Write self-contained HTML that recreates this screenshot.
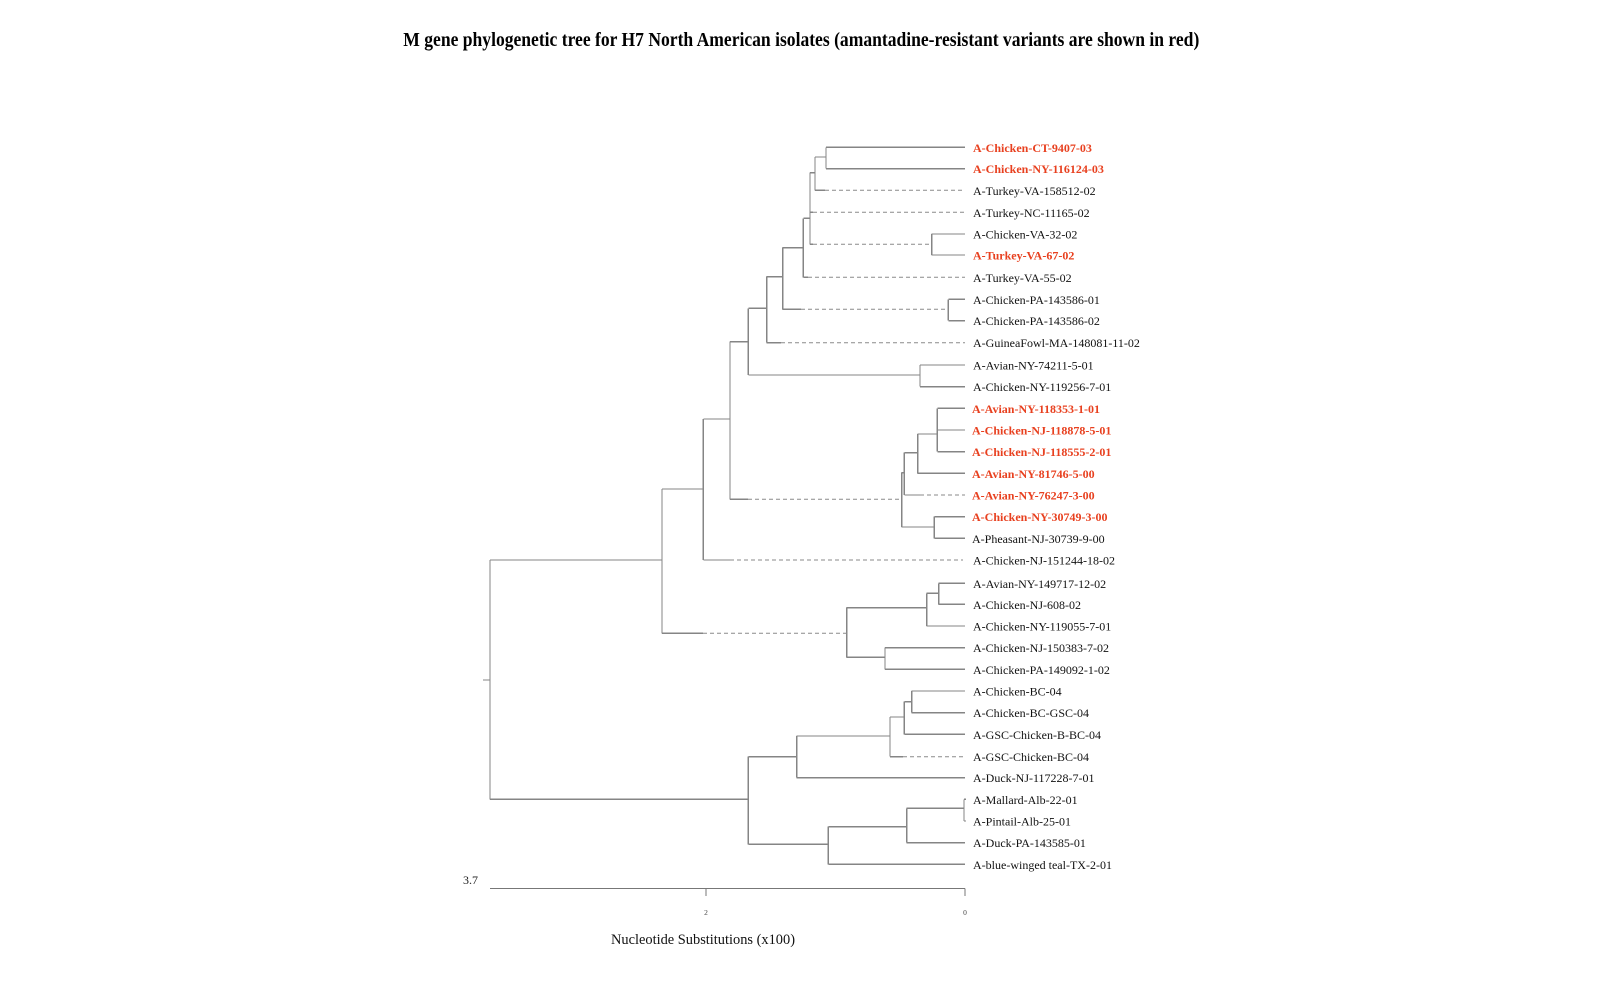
<!DOCTYPE html>
<html>
<head>
<meta charset="utf-8">
<style>
  html, body { margin:0; padding:0; background:#ffffff; }
  body { width:1600px; height:1000px; overflow:hidden; }
  svg { display:block; }
  .t { font-family:"Liberation Serif", "Times New Roman", serif; }
  .lbl { font-size:12px; fill:#111; }
  .red { font-weight:bold; fill:#e8401f; }
</style>
</head>
<body>
<svg width="1600" height="1000" viewBox="0 0 1600 1000" xmlns="http://www.w3.org/2000/svg">
  <rect x="0" y="0" width="1600" height="1000" fill="#ffffff"/>

  <!-- Title -->
  <text class="t" x="403.3" y="46" font-size="20" font-weight="bold" fill="#000" textLength="796" lengthAdjust="spacingAndGlyphs">M gene phylogenetic tree for H7 North American isolates (amantadine-resistant variants are shown in red)</text>

  <!-- Solid tree lines -->
  <g stroke="#858585" stroke-width="1.3" fill="none" shape-rendering="crispEdges">
    <!-- root -->
    <path d="M483 680 H490"/>
    <path d="M490 560 V799.3"/>
    <path d="M490 560 H662"/>
    <path d="M490 799.3 H748.3"/>
    <!-- N_top -->
    <path d="M662 489 V633.3"/>
    <path d="M662 489 H703.3"/>
    <path d="M662 633.3 H703"/>
    <!-- N_k -->
    <path d="M703.3 419 V560"/>
    <path d="M703.3 419 H730"/>
    <path d="M703.3 560 H730"/>
    <!-- N_g -->
    <path d="M730 341.7 V499.3"/>
    <path d="M730 341.7 H748.3"/>
    <path d="M730 499.3 H748"/>
    <!-- N_f -->
    <path d="M748.3 308.3 V375"/>
    <path d="M748.3 308.3 H766.7"/>
    <path d="M748.3 375 H920"/>
    <!-- N_1112 -->
    <path d="M920 365 V386.7"/>
    <path d="M920 365 H965"/>
    <path d="M920 386.7 H965"/>
    <!-- N_e -->
    <path d="M766.7 276.7 V342.7"/>
    <path d="M766.7 276.7 H782.7"/>
    <path d="M766.7 342.7 H781"/>
    <!-- N_d -->
    <path d="M782.7 247.7 V309.3"/>
    <path d="M782.7 247.7 H803.3"/>
    <path d="M782.7 309.3 H801"/>
    <!-- N_89 -->
    <path d="M948.3 299.3 V320.7"/>
    <path d="M948.3 299.3 H965"/>
    <path d="M948.3 320.7 H965"/>
    <!-- N_c -->
    <path d="M803.3 218.3 V277.3"/>
    <path d="M803.3 218.3 H810"/>
    <path d="M803.3 277.3 H808"/>
    <!-- N_b -->
    <path d="M810 172.7 V244.3"/>
    <path d="M810 172.7 H815"/>
    <path d="M810 212.3 H813"/>
    <path d="M810 244.3 H813"/>
    <!-- N_56 -->
    <path d="M931.7 234 V255"/>
    <path d="M931.7 234 H965"/>
    <path d="M931.7 255 H965"/>
    <!-- N_a -->
    <path d="M815 157 V190.3"/>
    <path d="M815 157 H826"/>
    <path d="M815 190.3 H825"/>
    <!-- N_CT_NY -->
    <path d="M826 147.3 V168.7"/>
    <path d="M826 147.3 H965"/>
    <path d="M826 168.7 H965"/>
    <!-- red cluster -->
    <path d="M901.7 472.7 V527"/>
    <path d="M901.7 472.7 H904.3"/>
    <path d="M901.7 527 H934.3"/>
    <path d="M904.3 452.7 V495"/>
    <path d="M904.3 452.7 H917.7"/>
    <path d="M904.3 495 H920"/>
    <path d="M917.7 434 V473.3"/>
    <path d="M917.7 434 H937.3"/>
    <path d="M917.7 473.3 H965"/>
    <path d="M937.3 408.3 V451.7"/>
    <path d="M937.3 408.3 H965"/>
    <path d="M937.3 430 H965"/>
    <path d="M937.3 451.7 H965"/>
    <path d="M934.3 516.7 V538.3"/>
    <path d="M934.3 516.7 H965"/>
    <path d="M934.3 538.3 H965"/>
    <!-- N_m -->
    <path d="M846.7 607.7 V657.3"/>
    <path d="M846.7 607.7 H926.7"/>
    <path d="M846.7 657.3 H885"/>
    <path d="M926.7 593.3 V626"/>
    <path d="M926.7 593.3 H938.7"/>
    <path d="M926.7 626 H965"/>
    <path d="M938.7 583.3 V604.3"/>
    <path d="M938.7 583.3 H965"/>
    <path d="M938.7 604.3 H965"/>
    <path d="M885 647.7 V669.3"/>
    <path d="M885 647.7 H965"/>
    <path d="M885 669.3 H965"/>
    <!-- bottom clade -->
    <path d="M748.3 756.7 V844.3"/>
    <path d="M748.3 756.7 H796.7"/>
    <path d="M748.3 844.3 H828.3"/>
    <path d="M796.7 736 V777.7"/>
    <path d="M796.7 736 H890"/>
    <path d="M796.7 777.7 H965"/>
    <path d="M890 717 V756.7"/>
    <path d="M890 717 H904.3"/>
    <path d="M890 756.7 H903"/>
    <path d="M904.3 701.7 V734.3"/>
    <path d="M904.3 701.7 H911.7"/>
    <path d="M904.3 734.3 H965"/>
    <path d="M911.7 691 V712.7"/>
    <path d="M911.7 691 H965"/>
    <path d="M911.7 712.7 H965"/>
    <path d="M828.3 826.7 V864.3"/>
    <path d="M828.3 826.7 H906.7"/>
    <path d="M828.3 864.3 H965"/>
    <path d="M906.7 808.3 V842.7"/>
    <path d="M906.7 808.3 H964"/>
    <path d="M906.7 842.7 H965"/>
    <path d="M964 799.3 V821"/>
    <path d="M964 799.3 H966"/>
    <path d="M964 821 H966"/>
  </g>

  <!-- Dashed tree lines -->
  <g stroke="#8a8a8a" stroke-width="1" fill="none" stroke-dasharray="4,3">
    <path d="M825 190.3 H965"/>
    <path d="M813 212.3 H965"/>
    <path d="M813 244.3 H931.7"/>
    <path d="M808 277.3 H965"/>
    <path d="M801 309.3 H948.3"/>
    <path d="M781 342.7 H965"/>
    <path d="M748 499.3 H901.7"/>
    <path d="M920 495 H965"/>
    <path d="M730 560 H963"/>
    <path d="M703 633.3 H846.7"/>
    <path d="M903 756.7 H965"/>
  </g>

  <!-- Leaf labels -->
  <g class="t">
    <text class="lbl red" x="973" y="151.8">A-Chicken-CT-9407-03</text>
    <text class="lbl red" x="973" y="173.2">A-Chicken-NY-116124-03</text>
    <text class="lbl" x="973" y="194.8">A-Turkey-VA-158512-02</text>
    <text class="lbl" x="973" y="216.8">A-Turkey-NC-11165-02</text>
    <text class="lbl" x="973" y="238.5">A-Chicken-VA-32-02</text>
    <text class="lbl red" x="973" y="259.5">A-Turkey-VA-67-02</text>
    <text class="lbl" x="973" y="281.8">A-Turkey-VA-55-02</text>
    <text class="lbl" x="973" y="303.8">A-Chicken-PA-143586-01</text>
    <text class="lbl" x="973" y="325.2">A-Chicken-PA-143586-02</text>
    <text class="lbl" x="973" y="347.2">A-GuineaFowl-MA-148081-11-02</text>
    <text class="lbl" x="973" y="369.5">A-Avian-NY-74211-5-01</text>
    <text class="lbl" x="973" y="391.2">A-Chicken-NY-119256-7-01</text>
    <text class="lbl red" x="972" y="412.8">A-Avian-NY-118353-1-01</text>
    <text class="lbl red" x="972" y="434.5">A-Chicken-NJ-118878-5-01</text>
    <text class="lbl red" x="972" y="456.2">A-Chicken-NJ-118555-2-01</text>
    <text class="lbl red" x="972" y="477.8">A-Avian-NY-81746-5-00</text>
    <text class="lbl red" x="972" y="499.5">A-Avian-NY-76247-3-00</text>
    <text class="lbl red" x="972" y="521.2">A-Chicken-NY-30749-3-00</text>
    <text class="lbl" x="972" y="542.8">A-Pheasant-NJ-30739-9-00</text>
    <text class="lbl" x="973" y="564.5">A-Chicken-NJ-151244-18-02</text>
    <text class="lbl" x="973" y="587.8">A-Avian-NY-149717-12-02</text>
    <text class="lbl" x="973" y="608.8">A-Chicken-NJ-608-02</text>
    <text class="lbl" x="973" y="630.5">A-Chicken-NY-119055-7-01</text>
    <text class="lbl" x="973" y="652.2">A-Chicken-NJ-150383-7-02</text>
    <text class="lbl" x="973" y="673.8">A-Chicken-PA-149092-1-02</text>
    <text class="lbl" x="973" y="695.5">A-Chicken-BC-04</text>
    <text class="lbl" x="973" y="717.2">A-Chicken-BC-GSC-04</text>
    <text class="lbl" x="973" y="738.8">A-GSC-Chicken-B-BC-04</text>
    <text class="lbl" x="973" y="761.2">A-GSC-Chicken-BC-04</text>
    <text class="lbl" x="973" y="782.2">A-Duck-NJ-117228-7-01</text>
    <text class="lbl" x="973" y="803.8">A-Mallard-Alb-22-01</text>
    <text class="lbl" x="973" y="825.5">A-Pintail-Alb-25-01</text>
    <text class="lbl" x="973" y="847.2">A-Duck-PA-143585-01</text>
    <text class="lbl" x="973" y="868.8">A-blue-winged teal-TX-2-01</text>
  </g>

  <!-- Scale axis -->
  <g stroke="#777" stroke-width="1.2" fill="none" shape-rendering="crispEdges">
    <path d="M490 888.5 H965"/>
    <path d="M706 888.5 V896"/>
    <path d="M965 888.5 V896"/>
  </g>
  <text class="t" x="463" y="884" font-size="12" fill="#222">3.7</text>
  <text class="t" x="706" y="915" font-size="7.5" fill="#444" text-anchor="middle">2</text>
  <text class="t" x="965" y="915" font-size="7.5" fill="#444" text-anchor="middle">0</text>
  <text class="t" x="611" y="944" font-size="14.5" fill="#111" textLength="184" lengthAdjust="spacingAndGlyphs">Nucleotide Substitutions (x100)</text>
</svg>
</body>
</html>
